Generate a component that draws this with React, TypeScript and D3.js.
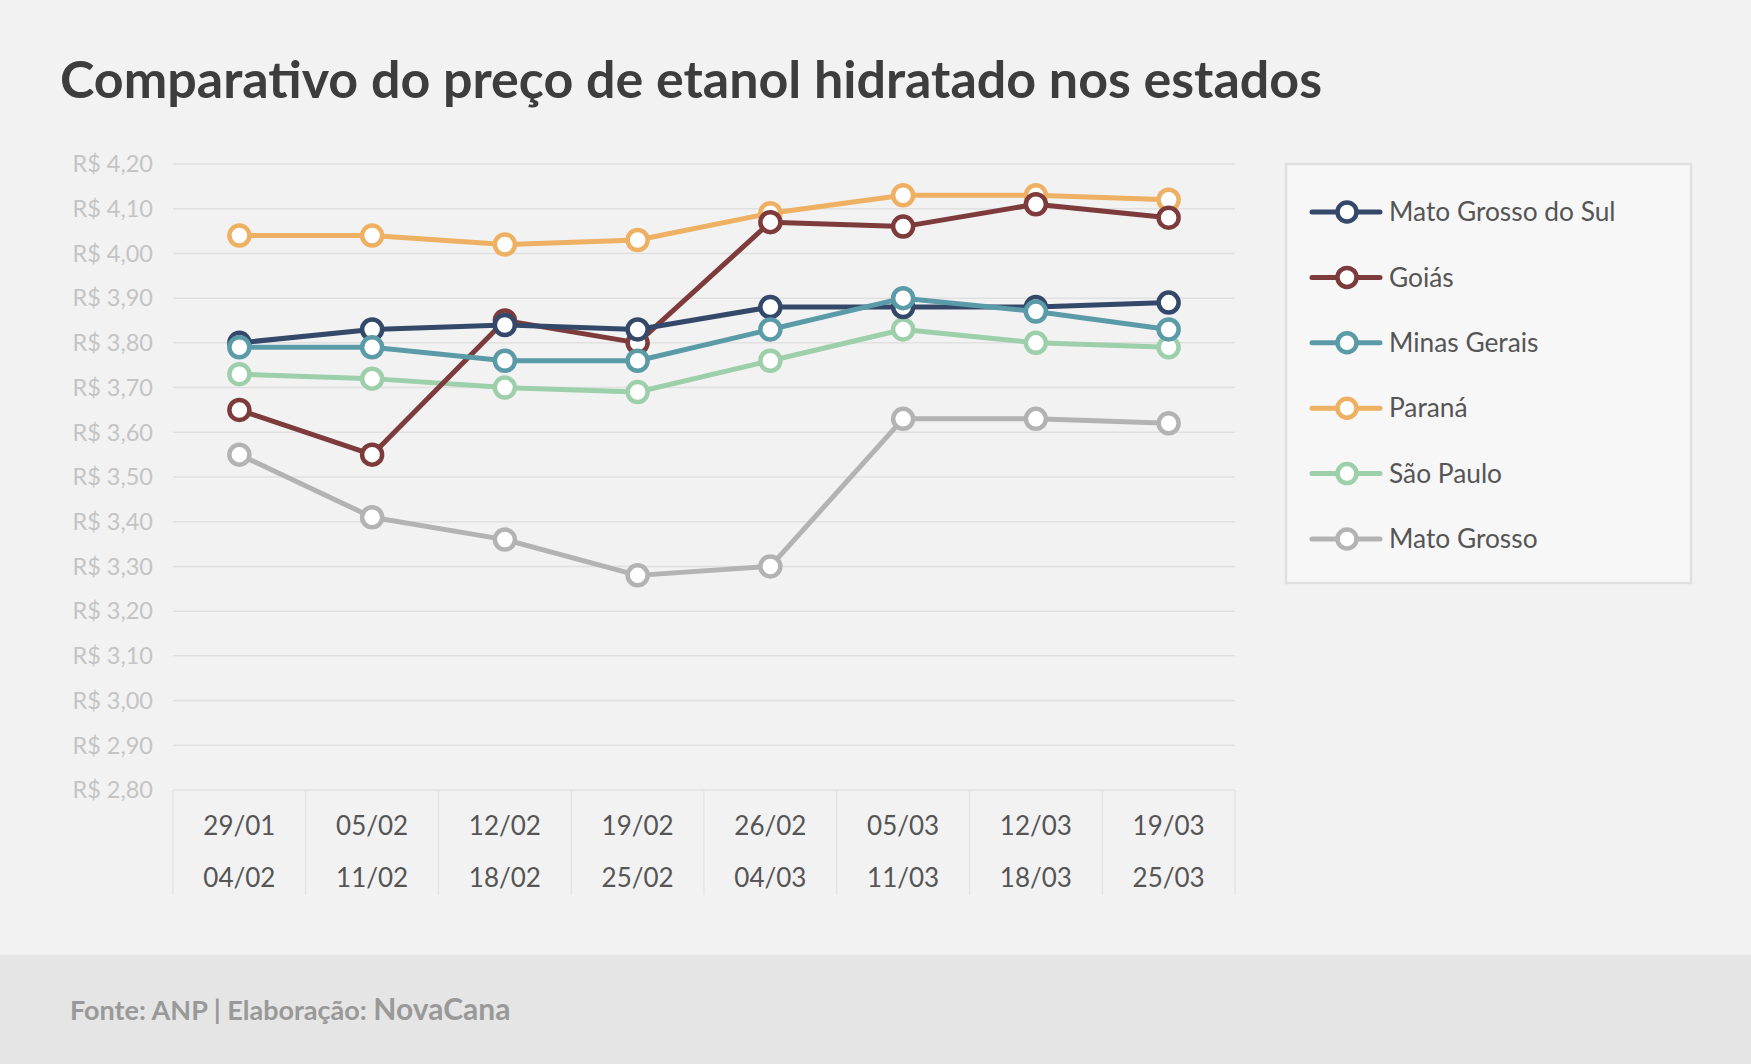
import React from "react";
import * as d3 from "d3";

const categoriesTop = ["29/01", "05/02", "12/02", "19/02", "26/02", "05/03", "12/03", "19/03"];
const categoriesBottom = ["04/02", "11/02", "18/02", "25/02", "04/03", "11/03", "18/03", "25/03"];
const yTicks = [2.8, 2.9, 3.0, 3.1, 3.2, 3.3, 3.4, 3.5, 3.6, 3.7, 3.8, 3.9, 4.0, 4.1, 4.2];

const seriesNames = ["Mato Grosso do Sul", "Goiás", "Minas Gerais", "Paraná", "São Paulo", "Mato Grosso"];
const seriesColors = ["#34496a", "#7d3b3b", "#5b9ba8", "#eeb062", "#9dcfaa", "#b3b3b3"];

const matoGrossoDoSul = [3.80, 3.83, 3.84, 3.83, 3.88, 3.88, 3.88, 3.89];
const goias = [3.65, 3.55, 3.85, 3.80, 4.07, 4.06, 4.11, 4.08];
const minasGerais = [3.79, 3.79, 3.76, 3.76, 3.83, 3.90, 3.87, 3.83];
const parana = [4.04, 4.04, 4.02, 4.03, 4.09, 4.13, 4.13, 4.12];
const saoPaulo = [3.73, 3.72, 3.70, 3.69, 3.76, 3.83, 3.80, 3.79];
const matoGrosso = [3.55, 3.41, 3.36, 3.28, 3.30, 3.63, 3.63, 3.62];

const seriesValues = [matoGrossoDoSul, goias, minasGerais, parana, saoPaulo, matoGrosso];
// drawing order (bottom to top)
const drawOrder = [5, 4, 3, 1, 0, 2];

const W = 1751;
const H = 1064;
const FONT = "Lato, 'Open Sans', sans-serif";

export default function App() {
  const left = 173;
  const right = 1235;
  const top = 164;
  const bottom = 790;

  const x = d3.scaleBand<number>().domain(d3.range(categoriesTop.length)).range([left, right]);
  const y = d3.scaleLinear().domain([2.8, 4.2]).range([bottom, top]);
  const line = d3
    .line<number>()
    .x((_, i) => (x(i) as number) + x.bandwidth() / 2)
    .y((d) => y(d));

  const fmt = (v: number) => "R$ " + v.toFixed(2).replace(".", ",");

  const legendX = 1286;
  const legendY = 164;
  const legendRow0 = 212;
  const legendStep = 65.4;

  return (
    <div style={{ position: "absolute", left: 0, top: 0 }}>
      <svg width={W} height={H} style={{ display: "block" }}>
        <rect x={0} y={0} width={W} height={H} fill="#f2f2f2" />
        <rect x={0} y={955} width={W} height={H - 955} fill="#e5e5e5" />

        <text x={60} y={98} fontFamily={FONT} fontWeight={700} fontSize={52} fill="#3d3d3d">
          Comparativo do preço de etanol hidratado nos estados
        </text>

        {/* gridlines */}
        {yTicks.map((t) => (
          <line key={"g" + t} x1={left} x2={right} y1={y(t)} y2={y(t)} stroke="#e0e0e0" strokeWidth={1.5} />
        ))}
        {/* y labels */}
        {yTicks.map((t) => (
          <text
            key={"l" + t}
            x={153}
            y={y(t)}
            dy="0.35em"
            textAnchor="end"
            fontFamily={FONT}
            fontSize={23.5}
            fill="#c4c4c4"
          >
            {fmt(t)}
          </text>
        ))}

        {/* x-axis separators */}
        {d3.range(categoriesTop.length + 1).map((i) => {
          const xx = i < categoriesTop.length ? (x(i) as number) : right;
          return <line key={"s" + i} x1={xx} x2={xx} y1={bottom} y2={895} stroke="#e2e2e2" strokeWidth={1.2} />;
        })}
        {categoriesTop.map((c, i) => (
          <g key={"c" + i}>
            <text
              x={(x(i) as number) + x.bandwidth() / 2}
              y={835}
              textAnchor="middle"
              fontFamily={FONT}
              fontSize={26}
              fill="#555"
            >
              {c}
            </text>
            <text
              x={(x(i) as number) + x.bandwidth() / 2}
              y={887}
              textAnchor="middle"
              fontFamily={FONT}
              fontSize={26}
              fill="#555"
            >
              {categoriesBottom[i]}
            </text>
          </g>
        ))}

        {/* series */}
        {drawOrder.map((si) => (
          <g key={"ser" + si}>
            <path d={line(seriesValues[si]) || ""} fill="none" stroke={seriesColors[si]} strokeWidth={5} strokeLinejoin="round" />
            {seriesValues[si].map((v, i) => (
              <circle
                key={i}
                cx={(x(i) as number) + x.bandwidth() / 2}
                cy={y(v)}
                r={10}
                fill="#fff"
                stroke={seriesColors[si]}
                strokeWidth={4.5}
              />
            ))}
          </g>
        ))}

        {/* legend */}
        <rect x={legendX} y={legendY} width={405} height={419} fill="#f7f7f7" stroke="#e0e0e0" strokeWidth={2.5} />
        {seriesNames.map((n, i) => {
          const ly = legendRow0 + i * legendStep;
          return (
            <g key={"lg" + i}>
              <line x1={1312} x2={1380} y1={ly} y2={ly} stroke={seriesColors[i]} strokeWidth={5} strokeLinecap="round" />
              <circle cx={1347} cy={ly} r={9.5} fill="#fff" stroke={seriesColors[i]} strokeWidth={4.5} />
              <text x={1389} y={ly} dy="0.35em" fontFamily={FONT} fontSize={26.3} fill="#555">
                {n}
              </text>
            </g>
          );
        })}

        {/* footer */}
        <text x={70} y={1020} fontFamily={FONT} fill="#999">
          <tspan fontWeight={700} fontSize={27}>Fonte: ANP | Elaboração: </tspan>
          <tspan fontWeight={700} fontSize={30}>NovaCana</tspan>
        </text>
      </svg>
    </div>
  );
}
